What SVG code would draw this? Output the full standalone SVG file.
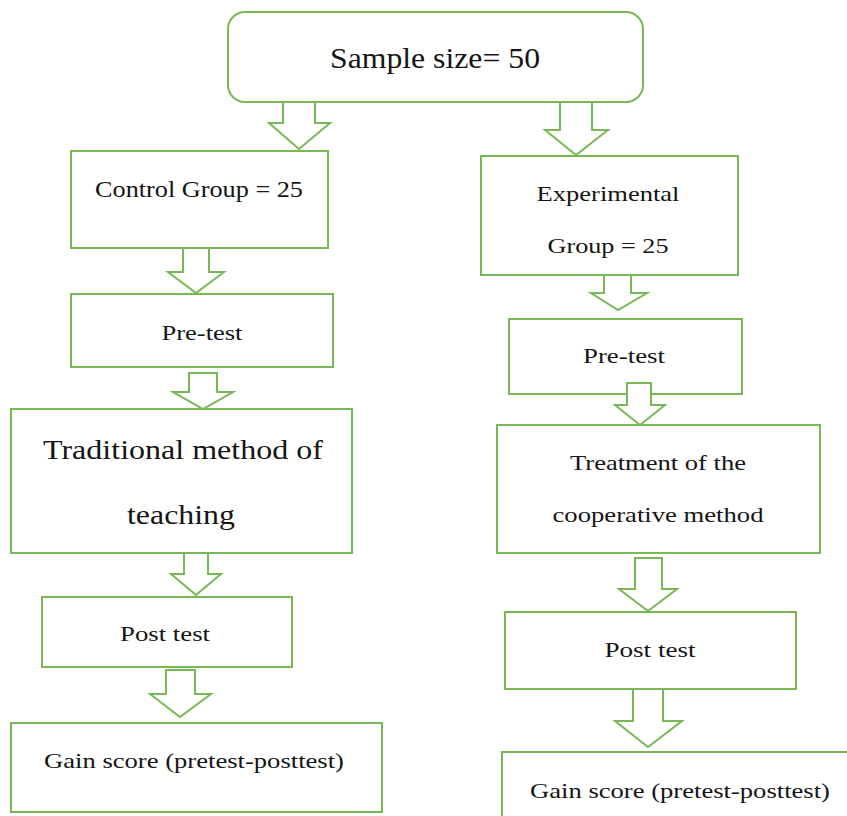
<svg xmlns="http://www.w3.org/2000/svg" width="847" height="816" viewBox="0 0 847 816">
<style>
.box{fill:#fff;stroke:#78B855;stroke-width:2}
.arr{fill:#fff;stroke:#78B855;stroke-width:2;stroke-linejoin:miter}
.t{fill:#151515;text-anchor:middle}
</style>
<rect width="847" height="816" fill="#fff"/>
<g font-family="Liberation Serif, DejaVu Serif, serif">
<g id="sample">
<rect class="box" x="228" y="12" width="415" height="90" rx="17"/>
<text class="t" x="435" y="68" font-size="30" textLength="210" lengthAdjust="spacingAndGlyphs">Sample size= 50</text>
</g>
<g id="control">
<rect class="box" x="71" y="151" width="257" height="97"/>
<text class="t" x="199" y="197" font-size="24" textLength="208" lengthAdjust="spacingAndGlyphs">Control Group = 25</text>
</g>
<g id="experimental">
<rect class="box" x="481" y="156" width="257" height="119"/>
<text class="t" x="608" y="201" font-size="21" textLength="143" lengthAdjust="spacingAndGlyphs">Experimental</text>
<text class="t" x="608" y="253" font-size="21" textLength="121" lengthAdjust="spacingAndGlyphs">Group = 25</text>
</g>
<g id="pretest-left">
<rect class="box" x="71" y="294" width="262" height="73"/>
<text class="t" x="202" y="340" font-size="21" textLength="81" lengthAdjust="spacingAndGlyphs">Pre-test</text>
</g>
<g id="pretest-right">
<rect class="box" x="509" y="319" width="233" height="75"/>
<text class="t" x="624" y="363" font-size="21" textLength="82" lengthAdjust="spacingAndGlyphs">Pre-test</text>
</g>
<g id="traditional">
<rect class="box" x="11" y="409" width="341" height="144"/>
<text class="t" x="183" y="459" font-size="27" textLength="280" lengthAdjust="spacingAndGlyphs">Traditional method of</text>
<text class="t" x="181" y="524" font-size="27" textLength="108" lengthAdjust="spacingAndGlyphs">teaching</text>
</g>
<g id="treatment">
<rect class="box" x="497" y="425" width="323" height="128"/>
<text class="t" x="658" y="470" font-size="21" textLength="176" lengthAdjust="spacingAndGlyphs">Treatment of the</text>
<text class="t" x="658" y="522" font-size="21" textLength="211" lengthAdjust="spacingAndGlyphs">cooperative method</text>
</g>
<g id="posttest-left">
<rect class="box" x="42" y="597" width="250" height="70"/>
<text class="t" x="165" y="641" font-size="21" textLength="90" lengthAdjust="spacingAndGlyphs">Post test</text>
</g>
<g id="posttest-right">
<rect class="box" x="505" y="612" width="291" height="77"/>
<text class="t" x="650" y="657" font-size="22" textLength="91" lengthAdjust="spacingAndGlyphs">Post test</text>
</g>
<g id="gain-left">
<rect class="box" x="11" y="723" width="371" height="89"/>
<text class="t" x="194" y="768" font-size="21" textLength="300" lengthAdjust="spacingAndGlyphs">Gain score (pretest-posttest)</text>
</g>
<g id="gain-right">
<rect class="box" x="502" y="752" width="360" height="80"/>
<text class="t" x="680" y="798" font-size="21" textLength="300" lengthAdjust="spacingAndGlyphs">Gain score (pretest-posttest)</text>
</g>
</g>
<g id="connectors">
<polygon class="arr" points="283,102 315,102 315,123 330,123 299,149 269,123 283,123"/>
<polygon class="arr" points="560,102 592,102 592,130 608,130 576,155 545,130 560,130"/>
<polygon class="arr" points="183,248 209,248 209,272 224,272 196,293 168,272 183,272"/>
<polygon class="arr" points="604,275 631,275 631,293 647,293 618,310 591,293 604,293"/>
<polygon class="arr" points="189,373 217,373 217,392 233,392 203,409 173,392 189,392"/>
<polygon class="arr" points="627,383 651,383 651,405 665,405 640,425 615,405 627,405"/>
<polygon class="arr" points="184,553 208,553 208,574 221,574 196,595 171,574 184,574"/>
<polygon class="arr" points="635,558 662,558 662,589 677,589 648,611 619,589 635,589"/>
<polygon class="arr" points="166,670 195,670 195,694 211,694 180,717 150,694 166,694"/>
<polygon class="arr" points="633,689 663,689 663,721 682,721 648,747 615,721 633,721"/>
</g>
</svg>
